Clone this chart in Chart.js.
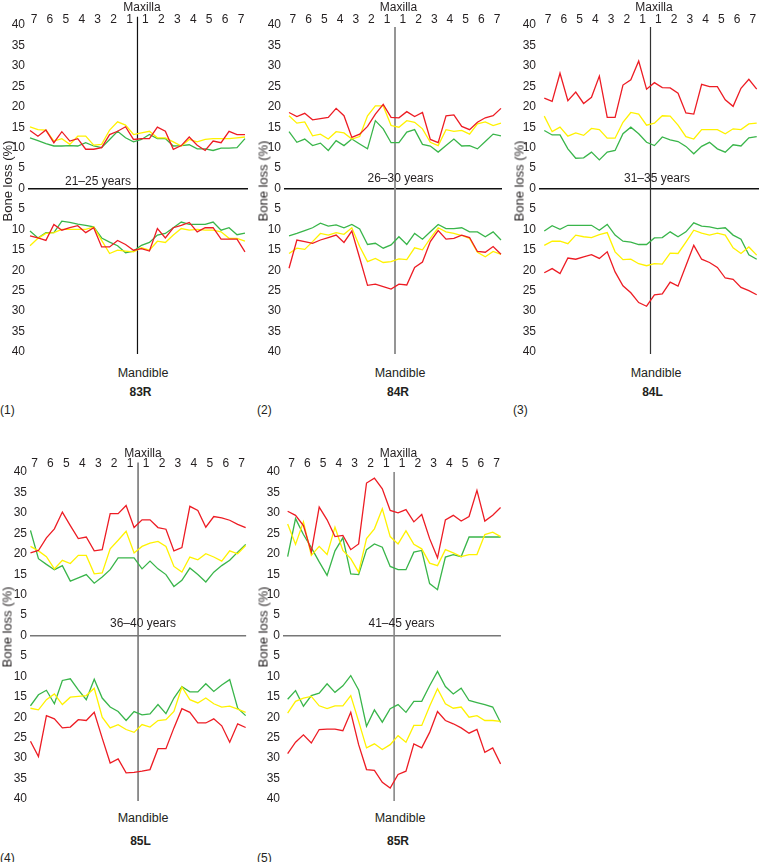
<!DOCTYPE html>
<html><head><meta charset="utf-8">
<script src="https://cdn.jsdelivr.net/npm/chart.js@4.4.0/dist/chart.umd.min.js"></script>
<style>
html,body{margin:0;padding:0;background:#fff;}
body{width:759px;height:862px;position:relative;overflow:hidden;font-family:"Liberation Sans",Arial,sans-serif;color:#231f20;}
canvas{position:absolute;}
.t{position:absolute;white-space:nowrap;font-size:12px;line-height:1;transform:translate(-50%,-50%);}
.b{font-weight:bold;}
.l{transform:translate(0,-50%);}
.r{transform:translate(-50%,-50%) rotate(-90deg);font-size:13px;}
.m{font-size:12.5px;}
</style></head><body>
<script>
// ---- tick labels ----
const toothLabels = ['7','6','5','4','3','2','1','1','2','3','4','5','6','7'];
const toothPositions = [0.5,2.5,4.5,6.5,8.5,10.5,12.5,14.5,16.5,18.5,20.5,22.5,24.5,26.5];
const yTickValues = [-40,-35,-30,-25,-20,-15,-10,-5,0,5,10,15,20,25,30,35,40];
const centreSite = 13.5;

// ---- Panel 1: 83R, 21–25 years ----
const p1MaxRed    = [14.2,12.8,14.3,11.2,13.9,11.6,12.2,9.6,9.6,10.0,13.2,14.0,15.1,12.0,12.2,12.2,15.0,14.0,9.6,10.5,12.6,10.6,9.3,11.6,11.2,14.0,13.2,13.2];
const p1MaxYellow = [15.1,14.4,14.3,11.6,12.2,10.8,12.8,12.8,10.6,10.8,14.3,16.3,15.5,13.2,13.6,14.0,12.4,12.4,11.4,10.4,12.0,11.4,12.0,12.2,12.2,12.2,12.4,12.6];
const p1MaxGreen  = [12.4,11.7,11.0,10.4,10.4,10.5,10.4,11.2,10.4,10.0,12.0,14.0,12.4,11.4,12.0,13.2,12.2,12.2,10.4,10.5,10.7,9.7,9.7,9.3,9.9,9.9,10.0,12.2];
const p1ManRed    = [11.6,12.1,12.7,8.8,10.2,9.6,9.1,10.8,9.6,14.3,14.3,12.7,13.7,15.1,14.7,15.3,9.8,12.1,9.6,9.0,8.3,10.6,9.6,9.6,12.4,12.4,12.4,15.5];
const p1ManYellow = [14.0,12.2,11.0,10.8,10.0,10.0,10.0,10.0,9.4,12.7,15.9,15.1,15.3,15.5,14.5,15.1,12.9,13.2,11.4,9.8,10.2,10.0,10.2,10.2,10.6,12.2,12.2,12.9];
const p1ManGreen  = [10.4,12.1,10.8,10.8,8.0,8.3,8.7,9.0,9.4,12.1,13.1,14.0,15.7,15.3,13.9,13.2,11.4,11.0,9.6,8.2,8.8,8.8,8.8,8.2,10.2,9.6,11.3,10.9];

// ---- Panel 2: 84R, 26–30 years ----
const p2MaxRed    = [18.6,17.6,18.4,16.8,17.1,17.4,19.6,17.8,12.5,13.3,15.2,18.2,20.6,17.4,17.3,18.8,17.6,18.6,12.0,11.2,17.8,18.0,15.2,14.4,16.2,17.3,17.8,19.6];
const p2MaxYellow = [17.8,16.0,16.3,12.9,13.3,12.1,13.9,13.6,12.1,12.7,17.8,20.2,20.2,15.4,15.0,16.6,16.2,14.6,11.3,10.5,14.4,14.0,14.2,13.3,15.8,16.3,15.4,16.0];
const p2MaxGreen  = [13.9,11.3,12.1,10.5,11.1,9.3,11.7,10.5,12.1,10.9,9.7,16.6,14.6,11.2,11.2,13.8,14.4,10.8,10.4,8.9,10.5,12.1,10.4,10.5,9.7,11.5,13.3,12.9];
const p2ManRed    = [19.5,12.6,13.0,13.4,12.6,12.0,11.4,13.2,10.4,17.0,23.7,23.4,24.0,24.6,23.4,23.6,19.3,18.0,13.0,10.3,12.4,12.2,11.4,12.0,15.4,15.6,14.2,16.1];
const p2ManYellow = [15.9,14.6,14.9,13.0,11.0,11.4,10.8,11.2,9.6,14.2,17.9,17.1,18.1,17.9,17.2,17.4,14.5,15.0,12.2,9.6,10.6,11.0,11.5,12.2,15.6,16.7,15.4,16.1];
const p2ManGreen  = [11.6,11.0,10.3,9.6,8.5,9.2,8.9,9.6,8.8,9.9,13.7,13.4,14.6,13.8,11.8,13.7,11.0,12.4,10.6,8.8,9.8,9.8,9.6,10.6,10.6,11.8,10.6,12.6];

// ---- Panel 3: 84L, 31–35 years ----
const p3MaxRed    = [22.1,21.3,28.2,21.5,23.6,20.8,22.3,27.5,17.4,17.4,25.3,26.6,31.2,24.3,25.9,24.7,24.6,23.3,18.5,18.2,25.5,24.9,24.9,21.7,20.1,24.5,26.7,24.3];
const p3MaxYellow = [17.7,13.9,15.0,12.8,13.6,13.0,14.7,14.4,12.3,12.3,16.2,18.6,18.2,15.5,16.0,17.8,17.7,15.5,12.7,12.1,14.4,14.4,14.4,13.4,14.6,14.4,15.8,16.0];
const p3MaxGreen  = [14.2,13.1,13.1,9.7,7.4,7.5,8.9,7.0,8.9,9.3,13.4,15.0,13.4,11.3,10.5,12.6,11.9,11.5,10.3,8.5,10.3,11.3,9.7,8.9,10.7,10.4,12.4,12.7];
const p3ManRed    = [20.6,19.6,20.8,17.0,17.3,16.7,16.2,17.1,15.5,20.4,23.8,25.5,27.9,28.8,26.0,25.8,22.9,23.9,18.9,13.9,17.3,18.1,19.3,21.9,22.2,24.2,25.0,26.0];
const p3ManYellow = [13.9,12.9,12.9,13.5,11.4,11.8,12.0,11.3,10.8,15.5,17.4,17.3,18.4,18.9,18.4,18.5,15.8,15.9,13.1,10.2,10.9,11.4,10.9,11.4,14.5,15.9,14.3,16.3];
const p3ManGreen  = [10.4,9.1,10.0,9.0,9.0,9.0,9.0,10.2,8.8,11.4,12.9,13.1,13.7,13.7,12.1,12.0,10.6,11.8,10.6,8.4,9.2,9.4,9.8,9.6,11.4,12.4,16.2,17.3];

// ---- Panel 4: 85L, 36–40 years ----
const p4MaxRed    = [20.2,20.8,23.9,26.1,30.2,26.9,23.7,24.1,20.7,21.0,29.8,29.8,31.8,26.4,28.3,28.3,26.4,26.0,20.7,21.5,31.6,30.6,26.5,29.1,28.8,28.2,27.2,26.4];
const p4MaxYellow = [21.8,20.7,19.3,16.3,18.4,17.6,19.6,19.6,15.1,15.3,21.2,23.3,25.5,20.2,21.8,22.6,23.0,21.8,16.9,15.5,19.2,18.5,20.0,19.2,18.2,20.7,20.0,22.0];
const p4MaxGreen  = [25.7,18.8,17.4,16.1,17.1,13.3,14.1,14.9,12.8,14.3,16.1,19.0,19.0,19.0,16.3,18.2,16.3,14.9,12.0,13.5,16.5,14.9,13.1,15.5,17.1,18.4,20.4,22.3];
const p4ManRed    = [25.9,29.6,19.6,20.4,22.6,22.4,20.6,20.8,18.8,25.1,31.2,30.2,33.6,33.5,33.2,32.8,27.7,27.7,22.6,17.9,18.8,21.4,21.4,20.4,22.1,26.1,21.6,22.5];
const p4ManYellow = [17.8,18.2,15.7,14.3,16.9,15.1,14.9,14.7,12.9,20.0,22.6,21.8,23.0,23.7,21.8,22.4,20.8,20.6,18.6,12.6,15.7,16.5,15.3,16.7,17.5,17.3,18.0,18.8];
const p4ManGreen  = [17.2,14.5,13.4,16.7,11.0,10.6,13.3,15.7,10.7,15.3,17.5,18.6,20.8,18.6,19.4,19.2,16.9,19.1,15.3,12.5,13.8,13.8,11.8,13.7,12.1,10.8,17.8,19.6];

// ---- Panel 5: 85R, 41–45 years ----
const p5MaxRed    = [30.4,29.4,26.9,20.4,31.4,28.3,24.2,24.5,21.0,22.4,37.3,38.5,35.9,30.6,30.0,30.8,27.8,29.6,23.7,19.0,28.3,29.4,28.0,29.1,35.5,28.0,29.4,31.3];
const p5MaxYellow = [27.3,22.3,27.8,19.6,21.8,19.8,26.5,20.8,18.8,15.5,23.7,26.1,31.0,24.2,22.4,25.6,22.3,21.2,17.7,17.1,21.0,20.2,19.3,19.8,19.8,24.7,25.3,24.2];
const p5MaxGreen  = [19.3,28.6,24.7,21.5,18.0,14.7,20.7,23.9,15.1,14.9,21.0,22.4,21.6,16.9,16.1,16.1,20.4,20.8,12.7,11.2,19.2,19.8,19.3,24.1,24.1,24.1,24.1,24.1];
const p5ManRed    = [28.9,26.1,24.3,26.3,23.0,22.9,22.9,23.3,18.8,26.7,32.8,33.0,35.9,37.3,34.0,33.2,26.5,27.5,23.7,18.6,20.8,21.6,22.6,23.9,23.0,28.6,27.5,31.4];
const p5ManYellow = [19.0,16.1,15.3,14.9,17.2,17.9,17.2,17.2,14.7,21.0,27.5,26.5,27.9,26.7,24.5,26.1,22.0,22.0,17.3,13.0,16.7,17.8,17.5,20.0,19.6,20.8,20.8,21.0];
const p5ManGreen  = [15.6,13.5,17.3,14.7,14.1,11.8,13.9,12.3,9.8,13.3,22.2,18.2,21.2,17.9,16.9,18.8,16.1,16.1,12.3,8.8,12.5,14.3,12.9,15.9,16.4,16.9,17.5,21.3];

const RED = '#ed1c24', YELLOW = '#fff200', GREEN = '#39b54a';
const FONT = '"Liberation Sans", Arial, sans-serif';

const panels = [
  {left:0,   top:0,   w:248, xmin:-0.25, xmax:27.38, tickPad:-1, lineTop:42,   centreColor:'#111', centreWidth:1.2, zeroColor:'#111',
   max:[p1MaxRed,p1MaxYellow,p1MaxGreen], man:[p1ManRed,p1ManYellow,p1ManGreen]},
  {left:256, top:0,   w:246, xmin:-0.64, xmax:27.13, tickPad:-1, lineTop:39.5, centreColor:'#8a8a8a', centreWidth:1.8, zeroColor:'#111',
   max:[p2MaxRed,p2MaxYellow,p2MaxGreen], man:[p2ManRed,p2ManYellow,p2ManGreen]},
  {left:511, top:0,   w:248, xmin:-0.67, xmax:27.29, tickPad:-1, lineTop:39.5, centreColor:'#333', centreWidth:1.2, zeroColor:'#111',
   max:[p3MaxRed,p3MaxYellow,p3MaxGreen], man:[p3ManRed,p3ManYellow,p3ManGreen]},
  {left:2,   top:447, w:245, xmin:-0.06, xmax:27.06, tickPad:2, lineTop:42.3, centreColor:'#777', centreWidth:1.6, zeroColor:'#777',
   max:[p4MaxRed,p4MaxYellow,p4MaxGreen], man:[p4ManRed,p4ManYellow,p4ManGreen]},
  {left:255, top:447, w:247, xmin:-0.59, xmax:27.04, tickPad:2, lineTop:40,   centreColor:'#888', centreWidth:1.6, zeroColor:'#777',
   max:[p5MaxRed,p5MaxYellow,p5MaxGreen], man:[p5ManRed,p5ManYellow,p5ManGreen]}
];

function pts(arr, sign){ return arr.map((v,i)=>({x:i, y:sign*v})); }
function series(arr, sign, color){
  return {data:pts(arr,sign), borderColor:color, borderWidth:1.3, pointRadius:0, tension:0, fill:false};
}

panels.forEach(p=>{
  const cv = document.createElement('canvas');
  const H = 361;
  cv.width = p.w; cv.height = H;
  cv.style.left = p.left+'px'; cv.style.top = p.top+'px';
  cv.style.width = p.w+'px'; cv.style.height = H+'px';
  document.body.appendChild(cv);
  const cols = [RED, YELLOW, GREEN];
  const ds = [];
  for (let k=0;k<3;k++){ ds.push(series(p.max[k], 1, cols[k])); ds.push(series(p.man[k], -1, cols[k])); }
  ds.push({data:[{x:centreSite,y:p.lineTop},{x:centreSite,y:-40.5}], borderColor:p.centreColor, borderWidth:p.centreWidth, pointRadius:0, clip:false});
  new Chart(cv, {
    type:'line',
    data:{datasets:ds},
    options:{
      responsive:false, animation:false, devicePixelRatio:1,
      layout:{padding:{left:0,right:0,top:0,bottom:8}},
      plugins:{legend:{display:false}, tooltip:{enabled:false}},
      scales:{
        x:{type:'linear', position:'top', min:p.xmin, max:p.xmax,
           grid:{display:false, drawTicks:false}, border:{display:false},
           afterBuildTicks:s=>{ s.ticks = toothPositions.map(v=>({value:v})); },
           afterFit:s=>{ s.height = 25; },
           ticks:{autoSkip:false, maxRotation:0, minRotation:0, padding:p.tickPad, color:'#231f20',
                  font:{family:FONT, size:12, lineHeight:1},
                  callback:(v,i)=>toothLabels[i]}},
        y:{type:'linear', min:-40, max:40,
           afterBuildTicks:s=>{ s.ticks = yTickValues.map(v=>({value:v})); },
           afterFit:s=>{ s.width = 28; },
           grid:{drawTicks:false,
                 color:c=> (c.tick && c.tick.value===0) ? p.zeroColor : 'rgba(0,0,0,0)',
                 lineWidth:c=> (c.tick && c.tick.value===0) ? 1.6 : 0},
           border:{display:false},
           ticks:{autoSkip:false, padding:3, color:'#231f20', font:{family:FONT, size:12, lineHeight:1},
                  callback:v=>Math.abs(v)}}
      }
    }
  });
});

const texts = [
  ['Maxilla',142,6.5,''],['21–25 years',98,180.5,''],['Mandible',143,373,'m'],['83R',140.5,392,'b'],['(1)',0,410,'l'],['Bone loss (%)',7,181,'r'],
  ['Maxilla',398.5,6.5,''],['26–30 years',400.5,177.7,''],['Mandible',400,373,'m'],['84R',398,392,'b'],['(2)',257,410,'l'],['Bone loss (%)',263,181,'r'],
  ['Maxilla',654,6.5,''],['31–35 years',657,177.7,''],['Mandible',656,373,'m'],['84L',652.5,392,'b'],['(3)',513,410,'l'],['Bone loss (%)',519,181,'r'],
  ['Maxilla',143,453,''],['36–40 years',143,623.3,''],['Mandible',143,818,'m'],['85L',140.5,841,'b'],['(4)',0,858,'l'],['Bone loss (%)',7,627,'r'],
  ['Maxilla',398.5,453,''],['41–45 years',401.5,623.3,''],['Mandible',400,818,'m'],['85R',398,841,'b'],['(5)',257,858,'l'],['Bone loss (%)',263,627,'r']
];
texts.forEach(([s,x,y,c])=>{
  const d = document.createElement('div');
  d.className = 't '+c; d.textContent = s;
  d.style.left = x+'px'; d.style.top = y+'px';
  document.body.appendChild(d);
});
</script>
</body></html>
